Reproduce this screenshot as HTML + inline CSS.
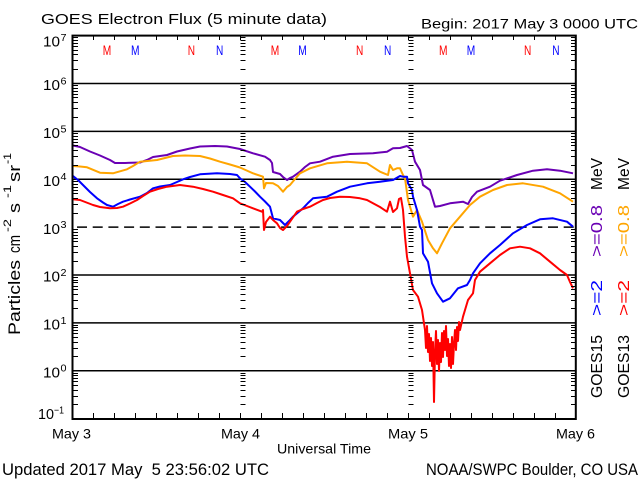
<!DOCTYPE html>
<html><head><meta charset="utf-8"><style>
html,body{margin:0;padding:0;background:#fff;}
svg{display:block;}
text{font-family:"Liberation Sans",sans-serif;}
</style></head><body>
<svg width="640" height="480" viewBox="0 0 640 480" xmlns="http://www.w3.org/2000/svg">
<defs>
<path id="yt" d="M0 37.5h5M0 40.5h5M0 43.5h5M0 46.5h5M0 50.5h5M0 54.5h5M0 60.5h5M0 69.5h5
M0 85.5h5M0 88.5h5M0 91.5h5M0 94.5h5M0 97.5h5M0 102.5h5M0 108.5h5M0 117.5h5
M0 133.5h5M0 136.5h5M0 139.5h5M0 142.5h5M0 145.5h5M0 150.5h5M0 156.5h5M0 165.5h5
M0 181.5h5M0 184.5h5M0 187.5h5M0 190.5h5M0 193.5h5M0 198.5h5M0 204.5h5M0 213.5h5
M0 229.5h5M0 232.5h5M0 235.5h5M0 238.5h5M0 241.5h5M0 246.5h5M0 252.5h5M0 261.5h5
M0 277.5h5M0 280.5h5M0 282.5h5M0 286.5h5M0 289.5h5M0 294.5h5M0 300.5h5M0 308.5h5
M0 325.5h5M0 327.5h5M0 330.5h5M0 333.5h5M0 337.5h5M0 342.5h5M0 348.5h5M0 356.5h5
M0 373.5h5M0 375.5h5M0 378.5h5M0 381.5h5M0 385.5h5M0 390.5h5M0 396.5h5M0 404.5h5" stroke="#000" stroke-width="1" fill="none"/>
</defs>

<!-- grid lines -->
<g stroke="#000" stroke-width="1.5">
<line x1="73" y1="83.5" x2="576" y2="83.5"/>
<line x1="73" y1="131.4" x2="576" y2="131.4"/>
<line x1="73" y1="179.2" x2="576" y2="179.2"/>
<line x1="77" y1="227.1" x2="576" y2="227.1" stroke-dasharray="10 5.7"/>
<line x1="73" y1="275" x2="576" y2="275"/>
<line x1="73" y1="322.9" x2="576" y2="322.9"/>
<line x1="73" y1="370.7" x2="576" y2="370.7"/>
</g>

<!-- data -->
<g fill="none" stroke-width="2" stroke-linejoin="round">
<polyline stroke="#6a00b4" points="73,145.5 80,147 90,151.5 100,155.5 110,160 115,163 125,163 140,162.5 147,160 153,157 160,156 167,155 177,151.5 190,148.5 200,146.5 215,146 227,146.5 240,149 253,153.3 265,156.7 270,160 272,163 273,172 280,174 283,177 287,180 290,178 293,176.7 300,171.7 305,167 310,163.3 320,161.7 333,156.7 350,154 373,153.3 387,151.7 393,148.3 400,148 407,146 412,150 415,161.7 420,170 423,185 430,190 435,206.7 440,206 450,203.3 463,201.7 468,204 472,197 477,191.7 490,186.7 500,180.7 517,175 533,170.7 547,169.3 560,170.7 573,173.3"/>
<polyline stroke="#ffa500" points="73,166 80,166.5 87,167.3 100,172.7 113,173.3 127,169.3 133,166 140,161.7 157,160 165,158 173,156 185,155.5 200,156 210,158.5 220,161.7 230,164.5 240,167.5 250,172 253,173.3 263,176.7 264,188.3 266,183 273,183.3 278,186 283,191.7 287,187 290,185 295,179 300,173.3 310,168.3 327,163.3 347,161.7 367,163.3 380,171.7 388,175 390,165 393,170 397,168.3 400,168.3 403,175 405,178.3 408,200 413,216.7 417,210 422,221.7 428,240 433,248.3 437,253.3 442,243.3 450,228.3 460,216.7 470,205 480,196.7 493,190 507,185 523,183.3 543,186.7 560,193.3 573,201.7"/>
<polyline stroke="#0000ff" points="73,176 78,180 83,185 90,192 97,198.3 103,202.5 107,205 113,206.7 118,204 123,201.7 130,199.5 140,196.7 147,193 153,188.3 160,186.5 170,185 177,182 183,179.3 190,177 200,174.3 217,173.3 230,174 237,175 240,178.3 245,182 250,186.7 255,191.5 260,196.7 265,201.5 270,206.7 273,218.3 280,220 285,225 289,221 293,216.7 298,212.5 303,208.3 308,203 313,198.3 327,196.7 337,191.7 350,186.7 367,183.3 380,181.7 393,180 400,176 403,176.7 407,176.7 408,183.3 412,190 413,196.7 417,210 420,226.7 422,230 423,253.3 428,261.7 432,283.3 437,293.3 443,301.7 450,298.3 458,288.3 467,285 470,280 473,273.3 480,263.3 490,253.3 500,245 513,233.3 527,225 540,219.3 553,218.3 567,221.7 573,226.7"/>
<polyline stroke="#ff0000" points="73,199.3 80,200 93,205 100,207 110,208.3 117,208 123,206.7 130,203.5 137,200 143,196 150,191.7 158,189 167,186.7 180,185 193,186.7 203,189 213,191.7 223,195 233,198.3 240,203.3 247,206 253,208.3 262,211.7 263,210 264,230 266,222 270,216.7 273,220 277,223.3 280,228 283,230 287,226 290,221.7 297,211.7 303,209 310,206.7 317,203 323,200 330,198 340,196.7 350,197 360,198.3 367,200 373,203.3 380,207 387,211.7 390,201.7 393,212 397,208.3 399,199 401,198 403,210 405,236.7 407,256.7 410,273.3 413,290 418,296.7 422,310 425,330 426,348 427,326 428,352 429,334 430,361 431,338 432,366 433,342 434,402 435,352 436,331 437,364 438,340 439,371 440,343 441,362 442,333 443,357 444,331 445,350 446,326 447,356 448,339 449,366 450,344 451,368 452,337 453,364 454,344 455,330 456,350 457,327 458,341 459,322 460,330 463,316.7 468,300 473,293.3 475,280 480,271.7 490,263.3 500,255 510,248.3 520,246.7 530,248.3 540,253.3 550,261.7 560,270 567,275 570,282 573,288.3"/>
</g>

<!-- axes frame -->
<rect x="72.5" y="35.6" width="503.3" height="383.4" fill="none" stroke="#000" stroke-width="2"/>

<!-- y minor ticks -->
<use href="#yt" x="73" y="0"/>
<use href="#yt" x="571" y="0"/>
<use href="#yt" x="240.5" y="0"/>
<use href="#yt" x="408.5" y="0"/>

<!-- x ticks -->
<path stroke="#000" stroke-width="1" fill="none" d="M93.5 413v6M114.5 413v6M135.5 413v6M156.5 413v6M177.5 413v6M198.5 413v6M219.5 413v6M240.5 413v6M261.5 413v6M282.5 413v6M303.5 413v6M324.5 413v6M345.5 413v6M366.5 413v6M387.5 413v6M408.5 413v6M429.5 413v6M450.5 413v6M471.5 413v6M492.5 413v6M513.5 413v6M534.5 413v6M555.5 413v6
M93.5 36v4M114.5 36v4M135.5 36v4M156.5 36v4M177.5 36v4M198.5 36v4M219.5 36v4M240.5 36v4M261.5 36v4M282.5 36v4M303.5 36v4M324.5 36v4M345.5 36v4M366.5 36v4M387.5 36v4M408.5 36v4M429.5 36v4M450.5 36v4M471.5 36v4M492.5 36v4M513.5 36v4M534.5 36v4M555.5 36v4"/>

<!-- M/N markers -->
<g font-size="14">
<text x="102.7" y="55" style="fill:#ff0000" textLength="8.5" lengthAdjust="spacingAndGlyphs">M</text>
<text x="131" y="55" style="fill:#0000ff" textLength="8.5" lengthAdjust="spacingAndGlyphs">M</text>
<text x="187.7" y="55" style="fill:#ff0000" textLength="7.3" lengthAdjust="spacingAndGlyphs">N</text>
<text x="216" y="55" style="fill:#0000ff" textLength="7.3" lengthAdjust="spacingAndGlyphs">N</text>
<text x="270.7" y="55" style="fill:#ff0000" textLength="8.5" lengthAdjust="spacingAndGlyphs">M</text>
<text x="298.3" y="55" style="fill:#0000ff" textLength="8.5" lengthAdjust="spacingAndGlyphs">M</text>
<text x="356" y="55" style="fill:#ff0000" textLength="7.3" lengthAdjust="spacingAndGlyphs">N</text>
<text x="384" y="55" style="fill:#0000ff" textLength="7.3" lengthAdjust="spacingAndGlyphs">N</text>
<text x="439" y="55" style="fill:#ff0000" textLength="8.5" lengthAdjust="spacingAndGlyphs">M</text>
<text x="466.7" y="55" style="fill:#0000ff" textLength="8.5" lengthAdjust="spacingAndGlyphs">M</text>
<text x="524" y="55" style="fill:#ff0000" textLength="7.3" lengthAdjust="spacingAndGlyphs">N</text>
<text x="552.3" y="55" style="fill:#0000ff" textLength="7.3" lengthAdjust="spacingAndGlyphs">N</text>
</g>

<!-- titles -->
<text x="41" y="24" font-size="15" textLength="286" lengthAdjust="spacingAndGlyphs">GOES Electron Flux (5 minute data)</text>
<text x="421" y="28.3" font-size="14" textLength="217" lengthAdjust="spacingAndGlyphs">Begin: 2017 May 3 0000 UTC</text>

<!-- y tick labels -->
<g font-size="14.5">
<text x="43" y="46.5" textLength="17" lengthAdjust="spacingAndGlyphs">10</text>
<text x="43" y="90.2" textLength="17" lengthAdjust="spacingAndGlyphs">10</text>
<text x="43" y="138.1" textLength="17" lengthAdjust="spacingAndGlyphs">10</text>
<text x="43" y="185.9" textLength="17" lengthAdjust="spacingAndGlyphs">10</text>
<text x="43" y="233.8" textLength="17" lengthAdjust="spacingAndGlyphs">10</text>
<text x="43" y="281.7" textLength="17" lengthAdjust="spacingAndGlyphs">10</text>
<text x="43" y="329.6" textLength="17" lengthAdjust="spacingAndGlyphs">10</text>
<text x="43" y="377.4" textLength="17" lengthAdjust="spacingAndGlyphs">10</text>
<text x="38" y="419" textLength="16" lengthAdjust="spacingAndGlyphs">10</text>
</g>
<g font-size="10">
<text x="60.5" y="41" textLength="6" lengthAdjust="spacingAndGlyphs">7</text>
<text x="60.5" y="84.5" textLength="6" lengthAdjust="spacingAndGlyphs">6</text>
<text x="60.5" y="132.4" textLength="6" lengthAdjust="spacingAndGlyphs">5</text>
<text x="60.5" y="180.2" textLength="6" lengthAdjust="spacingAndGlyphs">4</text>
<text x="60.5" y="228.1" textLength="6" lengthAdjust="spacingAndGlyphs">3</text>
<text x="60.5" y="276" textLength="6" lengthAdjust="spacingAndGlyphs">2</text>
<text x="60.5" y="323.9" textLength="6" lengthAdjust="spacingAndGlyphs">1</text>
<text x="60.5" y="371.7" textLength="6" lengthAdjust="spacingAndGlyphs">0</text>
<text x="54" y="413.5" textLength="10" lengthAdjust="spacingAndGlyphs">−1</text>
</g>

<!-- y axis title -->
<g transform="translate(20,335) rotate(-90)">
<text x="0" y="0" font-size="17" textLength="75" lengthAdjust="spacingAndGlyphs">Particles</text>
<text x="82" y="0" font-size="17" textLength="18" lengthAdjust="spacingAndGlyphs">cm</text>
<text x="103" y="-9" font-size="11" textLength="13" lengthAdjust="spacingAndGlyphs">-2</text>
<text x="122" y="0" font-size="17" textLength="10" lengthAdjust="spacingAndGlyphs">s</text>
<text x="137" y="-9" font-size="11" textLength="13" lengthAdjust="spacingAndGlyphs">-1</text>
<text x="153" y="0" font-size="17" textLength="17" lengthAdjust="spacingAndGlyphs">sr</text>
<text x="171" y="-9" font-size="11" textLength="11" lengthAdjust="spacingAndGlyphs">-1</text>
</g>

<!-- legend -->
<g transform="translate(602,398) rotate(-90)" font-size="15.5">
<text x="0" y="0" textLength="63" lengthAdjust="spacingAndGlyphs">GOES15</text>
<text x="82" y="0" style="fill:#0000ff" textLength="36" lengthAdjust="spacingAndGlyphs">&gt;=2</text>
<text x="141" y="0" style="fill:#6a00b4" textLength="52" lengthAdjust="spacingAndGlyphs">&gt;=0.8</text>
<text x="208" y="0" textLength="32" lengthAdjust="spacingAndGlyphs">MeV</text>
</g>
<g transform="translate(629,398) rotate(-90)" font-size="15.5">
<text x="0" y="0" textLength="63" lengthAdjust="spacingAndGlyphs">GOES13</text>
<text x="82" y="0" style="fill:#ff0000" textLength="36" lengthAdjust="spacingAndGlyphs">&gt;=2</text>
<text x="141" y="0" style="fill:#ffa500" textLength="52" lengthAdjust="spacingAndGlyphs">&gt;=0.8</text>
<text x="208" y="0" textLength="32" lengthAdjust="spacingAndGlyphs">MeV</text>
</g>

<!-- x labels -->
<g font-size="14">
<text x="52" y="438.3" textLength="39" lengthAdjust="spacingAndGlyphs">May 3</text>
<text x="221" y="438.3" textLength="39" lengthAdjust="spacingAndGlyphs">May 4</text>
<text x="388" y="438.3" textLength="40" lengthAdjust="spacingAndGlyphs">May 5</text>
<text x="556" y="438.3" textLength="39" lengthAdjust="spacingAndGlyphs">May 6</text>
<text x="277" y="453.3" textLength="94" lengthAdjust="spacingAndGlyphs">Universal Time</text>
</g>

<!-- footer -->
<text x="2" y="475" font-size="17" style="white-space:pre" textLength="267" lengthAdjust="spacingAndGlyphs">Updated 2017 May  5 23:56:02 UTC</text>
<text x="426" y="475" font-size="17" textLength="212" lengthAdjust="spacingAndGlyphs">NOAA/SWPC Boulder, CO USA</text>
</svg>
</body></html>
